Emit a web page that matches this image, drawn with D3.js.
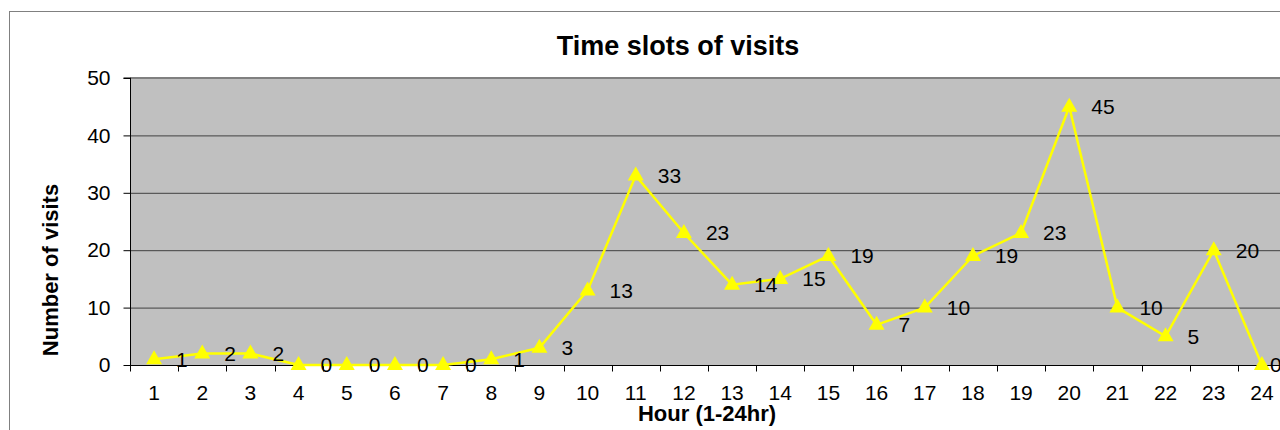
<!DOCTYPE html>
<html>
<head>
<meta charset="utf-8">
<script src="https://cdn.jsdelivr.net/npm/d3@7"></script>
<style>
  body { margin: 0; background: #fff; }
  text { font-family: "Liberation Sans", Arial, sans-serif; }
</style>
</head>
<body>
<svg width="1280" height="430"></svg>
<script>
hours = ['1','2','3','4','5','6','7','8','9','10','11','12','13','14','15','16','17','18','19','20','21','22','23','24']
visits = [1, 2, 2, 0, 0, 0, 0, 1, 3, 13, 33, 23, 14, 15, 19, 7, 10, 19, 23, 45, 10, 5, 20, 0]
yTicks = [0, 10, 20, 30, 40, 50]

let svg = d3.select("svg")
let margin = {left: 130, top: 78, right: 1286, bottom: 365}

// outer chart frame (runs past the window on right and bottom)
svg.append("rect")
    .attr("x", 9.5).attr("y", 11.5)
    .attr("width", 1400).attr("height", 500)
    .style("fill", "#fff").style("stroke", "#808080").style("stroke-width", 1)

let x = d3.scaleBand().domain(hours).range([margin.left, margin.right])
let y = d3.scaleLinear().domain([0, 50]).range([margin.bottom, margin.top])

// plot area
svg.append("rect")
    .attr("x", margin.left).attr("y", margin.top)
    .attr("width", margin.right - margin.left).attr("height", margin.bottom - margin.top)
    .style("fill", "#c0c0c0")

svg.append("line")
    .attr("x1", margin.left).attr("x2", margin.right)
    .attr("y1", margin.top).attr("y2", margin.top)
    .style("stroke", "#808080").style("stroke-width", 2)

// gridlines
svg.append("g").selectAll("line").data(yTicks.filter(d => d > 0 && d < 50)).enter().append("line")
    .attr("x1", margin.left).attr("x2", margin.right)
    .attr("y1", d => y(d) + 0.5).attr("y2", d => y(d) + 0.5)
    .style("stroke", "#404040").style("stroke-width", 1)

// y axis
let yAxis = svg.append("g")
    .attr("transform", `translate(${margin.left + 0.5},0)`)
    .call(d3.axisLeft(y).tickValues(yTicks).tickSize(7).tickPadding(13))
yAxis.select(".domain").attr("d", `M-7,${margin.top}H0V${margin.bottom}`).style("stroke", "#000")
yAxis.selectAll("text").style("font-size", "21px").style("fill", "#000")
yAxis.selectAll(".tick line").style("stroke", "#000")

// x axis with ticks between categories
let xg = svg.append("g").attr("transform", `translate(0,${margin.bottom + 0.5})`)
xg.append("line")
    .attr("x1", margin.left).attr("x2", margin.right)
    .style("stroke", "#000")
xg.selectAll(".xt").data(hours).enter().append("line")
    .attr("x1", d => Math.round(x(d)) + 0.5).attr("x2", d => Math.round(x(d)) + 0.5)
    .attr("y1", 0).attr("y2", 6)
    .style("stroke", "#000")
xg.selectAll("text").data(hours).enter().append("text")
    .attr("x", d => x(d) + x.bandwidth() / 2)
    .attr("y", 34)
    .attr("text-anchor", "middle")
    .style("font-size", "21px")
    .text(d => d)

// line
let cx = d => x(d) + x.bandwidth() / 2
svg.append("path")
    .datum(hours)
    .attr("d", d3.line().x(d => cx(d)).y((d, i) => y(visits[i])))
    .style("fill", "none").style("stroke", "#ffff00").style("stroke-width", 2.5)

// triangle markers
svg.append("g").selectAll("path").data(hours).enter().append("path")
    .attr("transform", (d, i) => `translate(${cx(d)},${y(visits[i])})`)
    .attr("d", "M0,-9L8,5L-8,5Z")
    .style("fill", "#ffff00")

// data labels
svg.append("g").selectAll("text").data(hours).enter().append("text")
    .attr("x", (d, i) => Math.min(cx(d) + 22, 1270))
    .attr("y", (d, i) => y(visits[i]))
    .attr("dy", "0.35em")
    .style("font-size", "21px")
    .style("fill", "#000")
    .text((d, i) => visits[i])

// titles
svg.append("text")
    .attr("x", 678).attr("y", 55)
    .attr("text-anchor", "middle")
    .style("font-size", "27px").style("font-weight", "bold")
    .text("Time slots of visits")

svg.append("text")
    .attr("transform", "translate(58,270) rotate(-90)")
    .attr("text-anchor", "middle")
    .style("font-size", "22px").style("font-weight", "bold")
    .text("Number of visits")

svg.append("text")
    .attr("x", 707).attr("y", 421)
    .attr("text-anchor", "middle")
    .style("font-size", "22px").style("font-weight", "bold")
    .text("Hour (1-24hr)")
</script>
</body>
</html>
